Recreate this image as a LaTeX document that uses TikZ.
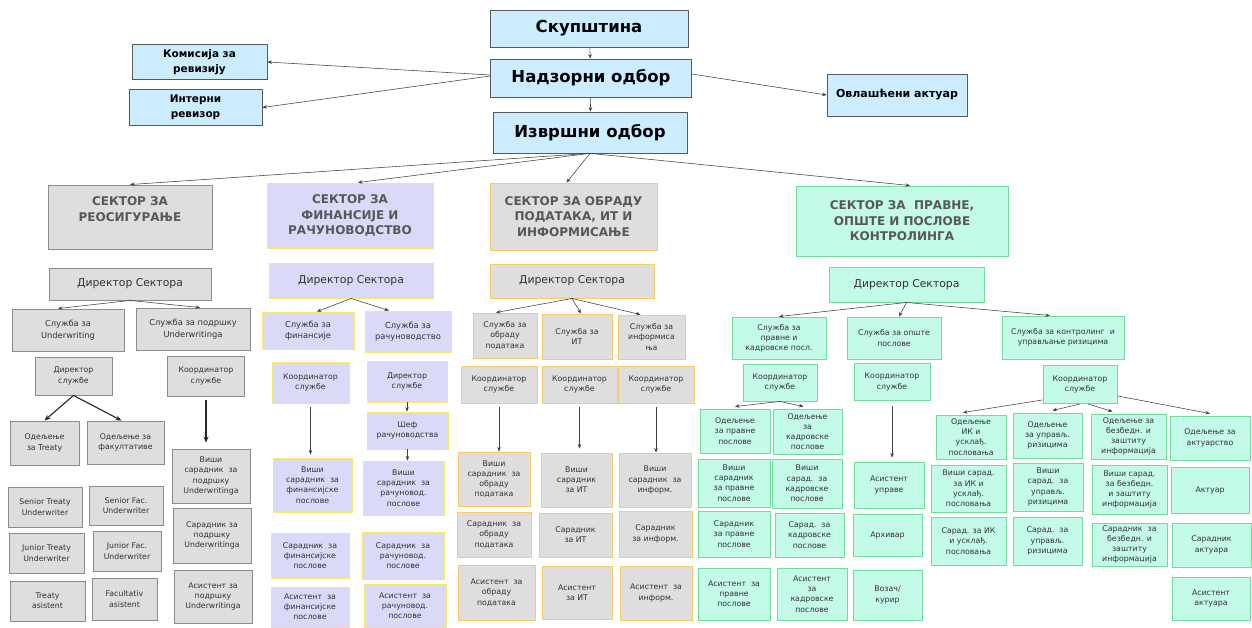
\documentclass[tikz,border=0pt]{standalone}
\usepackage{fontspec}
\setmainfont{DejaVu Sans}
\usetikzlibrary{arrows.meta}
\definecolor{topfill}{RGB}{204,236,255}
\definecolor{topdraw}{RGB}{90,90,90}
\definecolor{grayfill}{RGB}{222,222,222}
\definecolor{graydraw}{RGB}{140,140,140}
\definecolor{lavfill}{RGB}{218,218,248}
\definecolor{yeldraw}{RGB}{250,232,110}
\definecolor{orgdraw}{RGB}{245,205,105}
\definecolor{mintfill}{RGB}{196,250,232}
\definecolor{mintdraw}{RGB}{110,222,155}
\definecolor{hdtext}{RGB}{88,88,88}
\definecolor{txt}{RGB}{50,50,50}
\newcommand\ftop{\fontsize{16.5}{20}\selectfont\bfseries}
\newcommand\fmid{\fontsize{10.5}{14.5}\selectfont\bfseries}
\newcommand\fov{\fontsize{11}{14}\selectfont\bfseries}
\newcommand\fsec{\fontsize{12}{15.5}\selectfont\bfseries}
\newcommand\fdir{\fontsize{10.8}{13}\selectfont}
\newcommand\fsrv{\fontsize{8.3}{11.5}\selectfont}
\newcommand\fsm{\fontsize{7.8}{10.2}\selectfont}
\newcommand\Bx[7]{\node[#1, minimum width=#5pt, minimum height=#6pt] (#2) at (#3,#4) {#7};}
\begin{document}
\begin{tikzpicture}[x=1pt,y=-1pt,
  bxbase/.style={align=center, inner sep=1pt, text=txt, line width=0.9pt},
  bxtop/.style={bxbase, draw=topdraw, fill=topfill, text=black, line width=0.7pt},
  bxg/.style={bxbase, draw=graydraw, fill=grayfill},
  bxl/.style={bxbase, draw=yeldraw, fill=lavfill},
  bxo/.style={bxbase, draw=orgdraw, fill=grayfill},
  bxm/.style={bxbase, draw=mintdraw, fill=mintfill},
  sechd/.style={font=\fsec, text=hdtext},
  arr/.style={draw=black!75, line width=0.55pt, -{Stealth[length=4.5pt,width=3.5pt]}},
  arrk/.style={draw=black!85, line width=1.1pt, -{Stealth[length=6pt,width=5pt]}}]
\fill[white] (0,0) rectangle (1252,628);
\useasboundingbox (0,0) rectangle (1252,628);
% top
\Bx{bxtop,font=\ftop}{sk}{589}{28.5}{198}{37}{Скупштина}
\Bx{bxtop,font=\ftop}{nad}{591}{78}{201}{38}{Надзорни одбор}
\Bx{bxtop,font=\ftop}{izv}{590}{132.5}{194}{41}{Извршни одбор}
\Bx{bxtop,font=\fmid}{kom}{199.5}{62}{135}{35}{Комисија за\\ревизију}
\Bx{bxtop,font=\fmid}{int}{195.5}{107.5}{133}{36}{Интерни\\ревизор}
\Bx{bxtop,font=\fov}{ovl}{897}{95}{140}{42}{Овлашћени актуар}
\draw[arr] (sk) -- (nad);
\draw[arr] (nad) -- (izv);
\draw[arr] ([yshift=3pt]nad.west) -- (kom.east);
\draw[arr] ([yshift=2pt]nad.west) -- (int.east);
\draw[arr] ([yshift=4pt]nad.east) -- (ovl.west);
% sectors
\Bx{bxg,sechd}{s1}{130}{217}{164}{64}{СЕКТОР ЗА\\РЕОСИГУРАЊЕ\\\mbox{}}
\Bx{bxl,sechd}{s2}{350}{215.5}{166}{65}{СЕКТОР ЗА\\ФИНАНСИЈЕ И\\РАЧУНОВОДСТВО}
\Bx{bxo,sechd}{s3}{573.5}{216.5}{167}{67}{СЕКТОР ЗА ОБРАДУ\\ПОДАТАКА, ИТ И\\ИНФОРМИСАЊЕ}
\Bx{bxm,sechd}{s4}{902}{221}{212}{70}{СЕКТОР ЗА~~ПРАВНЕ,\\ОПШТЕ И ПОСЛОВЕ\\КОНТРОЛИНГА}
\draw[arr] (izv.south) -- (s1.north);
\draw[arr] (izv.south) -- ([xshift=8pt]s2.north);
\draw[arr] (izv.south) -- ([xshift=-7pt]s3.north);
\draw[arr] (izv.south) -- ([xshift=8pt]s4.north);
% sector 1
\Bx{bxg,font=\fdir}{d1}{130}{284}{162}{32}{Директор Сектора}
\Bx{bxg,font=\fsrv}{u1}{68}{330}{112}{42}{Служба за\\Underwriting}
\Bx{bxg,font=\fsrv}{u2}{193}{329}{114}{42}{Служба за подршку\\Underwritinga}
\Bx{bxg,font=\fsm}{ds1}{73.5}{376}{77}{38}{Директор\\службе}
\Bx{bxg,font=\fsm}{ks1}{206}{376}{77}{40}{Координатор\\службе}
\Bx{bxg,font=\fsm}{ot}{44.5}{443}{69}{44}{Одељење\\за Treaty}
\Bx{bxg,font=\fsm}{of}{125.5}{442.5}{77}{43}{Одељење за\\факултативе}
\Bx{bxg,font=\fsm}{vsu}{211}{476}{78}{54}{Виши\\сарадник~~за\\подршку\\Underwritinga}
\Bx{bxg,font=\fsm}{ssu}{212}{535.5}{78}{55}{Сарадник за\\подршку\\Underwritinga}
\Bx{bxg,font=\fsm}{asu}{213}{596.5}{78}{53}{Асистент за\\подршку\\Underwritinga}
\Bx{bxg,font=\fsm}{stu}{45}{507}{74}{40}{Senior Treaty\\Underwriter}
\Bx{bxg,font=\fsm}{sfu}{126}{505.5}{74}{39}{Senior Fac.\\Underwriter}
\Bx{bxg,font=\fsm}{jtu}{46.5}{553}{75}{40}{Junior Treaty\\Underwriter}
\Bx{bxg,font=\fsm}{jfu}{127}{551}{68}{40}{Junior Fac.\\Underwriter}
\Bx{bxg,font=\fsm}{ta}{47.5}{601}{75}{40}{Treaty\\asistent}
\Bx{bxg,font=\fsm}{fa}{124.5}{599}{65}{42}{Facultativ\\asistent}
\draw[arr] (d1.south) -- ([xshift=-10pt]u1.north);
\draw[arr] (d1.south) -- ([xshift=7pt]u2.north);
\draw[arrk] (ds1.south) -- (ot.north);
\draw[arrk] (ds1.south) -- ([xshift=-4pt]of.north);
\draw[arrk] ([yshift=-4pt]ks1.south) -- ([yshift=6pt]ks1.south |- vsu.north);
% sector 2
\Bx{bxl,font=\fdir}{d2}{351}{280.5}{164}{35}{Директор Сектора}
\Bx{bxl,font=\fsrv}{f1}{308}{330.5}{92}{37}{Служба за\\финансије}
\Bx{bxl,font=\fsrv}{f2}{408}{331.5}{86}{41}{Служба за\\рачуноводство}
\Bx{bxl,font=\fsm}{kf}{310.5}{382.5}{77}{41}{Координатор\\службе}
\Bx{bxl,font=\fsm}{dr}{407}{381.5}{80}{41}{Директор\\службе}
\Bx{bxl,font=\fsm}{sr}{407.5}{430.5}{81}{37}{Шеф\\рачуноводства}
\Bx{bxl,font=\fsm}{vf}{312.5}{485}{79}{54}{Виши\\сарадник~~за\\финансијске\\послове}
\Bx{bxl,font=\fsm}{vr}{403.5}{488}{81}{54}{Виши\\сарадник~~за\\рачуновод.\\послове}
\Bx{bxl,font=\fsm}{sf}{310}{555.5}{78}{45}{Сарадник~~за\\финансијске\\послове}
\Bx{bxl,font=\fsm}{srr}{403}{555.5}{82}{47}{Сарадник~~за\\рачуновод.\\послове}
\Bx{bxl,font=\fsm}{af}{310}{607}{78}{40}{Асистент~~за\\финансијске\\послове}
\Bx{bxl,font=\fsm}{ar}{405}{605.5}{82}{43}{Асистент~~за\\рачуновод.\\послове}
\draw[arr] (d2.south) -- ([xshift=9pt]f1.north);
\draw[arr] (d2.south) -- ([xshift=-19pt]f2.north);
\draw[arr] ([yshift=-4pt]kf.south) -- ([yshift=3pt]kf.south |- vf.north);
\draw[arr] (dr.south) -- (dr.south |- sr.north);
\draw[arr] (sr.south) -- (sr.south |- vr.north);
% sector 3
\Bx{bxo,font=\fdir}{d3}{572}{281}{164}{34}{Директор Сектора}
\Bx{bxo,font=\fsm}{p1}{505}{335.5}{64}{45}{Служба за\\обраду\\података}
\Bx{bxo,font=\fsm}{p2}{577}{336.5}{70}{45}{Служба за\\ИТ}
\Bx{bxo,font=\fsm}{p3}{651.5}{337}{67}{44}{Служба за\\информиса\\ња}
\Bx{bxo,font=\fsm}{k31}{499}{384.5}{76}{37}{Координатор\\службе}
\Bx{bxo,font=\fsm}{k32}{579.5}{384.5}{75}{37}{Координатор\\службе}
\Bx{bxo,font=\fsm}{k33}{656}{384.5}{76}{37}{Координатор\\службе}
\Bx{bxo,font=\fsm}{v31}{494}{479}{72}{54}{Виши\\сарадник~~за\\обраду\\података}
\Bx{bxo,font=\fsm}{v32}{576.5}{480}{71}{54}{Виши\\сарадник\\за ИТ}
\Bx{bxo,font=\fsm}{v33}{655}{480}{72}{54}{Виши\\сарадник~~за\\информ.}
\Bx{bxo,font=\fsm}{s31}{494}{534.5}{74}{45}{Сарадник~~за\\обраду\\података}
\Bx{bxo,font=\fsm}{s32}{575.5}{535}{73}{44}{Сарадник\\за ИТ}
\Bx{bxo,font=\fsm}{s33}{655.5}{534}{73}{46}{Сарадник\\за информ.}
\Bx{bxo,font=\fsm}{a31}{496.5}{592.5}{77}{55}{Асистент~~за\\обраду\\података}
\Bx{bxo,font=\fsm}{a32}{577}{592.5}{70}{53}{Асистент\\за ИТ}
\Bx{bxo,font=\fsm}{a33}{656}{593}{72}{54}{Асистент~~за\\информ.}
\draw[arr] (d3.south) -- ([xshift=-9pt]p1.north);
\draw[arr] (d3.south) -- ([xshift=4pt]p2.north);
\draw[arr] (d3.south) -- ([xshift=-11pt]p3.north);
\draw[arr] ([yshift=-4pt]k31.south) -- (k31.south |- v31.north);
\draw[arr] ([yshift=-4pt]k32.south) -- ([yshift=4pt]k32.south |- v32.north);
\draw[arr] ([yshift=-4pt]k33.south) -- (k33.south |- v33.north);
% sector 4
\Bx{bxm,font=\fdir}{d4}{906.5}{284.5}{155}{35}{Директор Сектора}
\Bx{bxm,font=\fsm}{q1}{779}{338}{94}{42}{Служба за\\правне и\\кадровске посл.}
\Bx{bxm,font=\fsm}{q2}{894}{338}{94}{42}{Служба за опште\\послове}
\Bx{bxm,font=\fsm}{q3}{1063}{337.5}{122}{43}{Служба за контролинг~~и\\управљање ризицима}
\Bx{bxm,font=\fsm}{k41}{780}{382.5}{74}{37}{Координатор\\службе}
\Bx{bxm,font=\fsm}{k42}{892}{382}{76}{37}{Координатор\\службе}
\Bx{bxm,font=\fsm}{k43}{1080}{384.5}{74}{38}{Координатор\\службе}
\Bx{bxm,font=\fsm}{o41}{735}{431}{70}{44}{Одељење\\за правне\\послове}
\Bx{bxm,font=\fsm}{o42}{807.5}{431.5}{69}{45}{Одељење\\за\\кадровске\\послове}
\Bx{bxm,font=\fsm}{v41}{734}{483}{72}{48}{Виши\\сарадник\\за правне\\послове}
\Bx{bxm,font=\fsm}{v42}{807}{483.5}{70}{49}{Виши\\сарад.~~за\\кадровске\\послове}
\Bx{bxm,font=\fsm}{s41}{734}{534}{72}{46}{Сарадник\\за правне\\послове}
\Bx{bxm,font=\fsm}{s42}{809.5}{535}{69}{44}{Сарад.~~за\\кадровске\\послове}
\Bx{bxm,font=\fsm}{a41}{734}{594}{72}{52}{Асистент~~за\\правне\\послове}
\Bx{bxm,font=\fsm}{a42}{812}{594}{70}{52}{Асистент\\за\\кадровске\\послове}
\Bx{bxm,font=\fsm}{au}{889}{485}{70}{46}{Асистент\\управе}
\Bx{bxm,font=\fsm}{arh}{887.5}{535}{69}{42}{Архивар}
\Bx{bxm,font=\fsm}{voz}{887.5}{595}{69}{50}{Возач/\\курир}
\Bx{bxm,font=\fsm}{o43}{971}{437}{70}{44}{Одељење\\ИК и\\усклађ.\\пословања}
\Bx{bxm,font=\fsm}{o44}{1047.5}{435.5}{69}{45}{Одељење\\за управљ.\\ризицима}
\Bx{bxm,font=\fsm}{o45}{1128.5}{436.5}{75}{45}{Одељење за\\безбедн. и\\заштиту\\информација}
\Bx{bxm,font=\fsm}{o46}{1210}{438}{80}{44}{Одељење за\\актуарство}
\Bx{bxm,font=\fsm}{v43}{968.5}{488.5}{75}{47}{Виши сарад.\\за ИК и\\усклађ.\\пословања}
\Bx{bxm,font=\fsm}{v44}{1048}{487}{70}{48}{Виши\\сарад.~~за\\управљ.\\ризицима}
\Bx{bxm,font=\fsm}{v45}{1129.5}{489.5}{75}{49}{Виши сарад.\\за безбедн.\\и заштиту\\информација}
\Bx{bxm,font=\fsm}{act}{1210}{490}{78}{46}{Актуар}
\Bx{bxm,font=\fsm}{s43}{968.5}{541}{75}{48}{Сарад. за ИК\\и усклађ.\\пословања}
\Bx{bxm,font=\fsm}{s44}{1047.5}{541}{69}{48}{Сарад.~~за\\управљ.\\ризицима}
\Bx{bxm,font=\fsm}{s45}{1129.5}{544.5}{75}{43}{Сарадник~~за\\безбедн. и\\заштиту\\информација}
\Bx{bxm,font=\fsm}{sa}{1211.5}{545}{79}{44}{Сарадник\\актуара}
\Bx{bxm,font=\fsm}{aa}{1211}{598.5}{78}{43}{Асистент\\актуара}
\draw[arr] (d4.south) -- (q1.north);
\draw[arr] (d4.south) -- ([xshift=5pt]q2.north);
\draw[arr] (d4.south) -- ([xshift=-13pt]q3.north);
\draw[arr] (k41.south) -- ([yshift=2pt]o41.north);
\draw[arr] (k41.south) -- ([xshift=-4pt,yshift=2pt]o42.north);
\draw[arr] ([yshift=-5pt]k42.south) -- ([yshift=4pt]k42.south |- au.north);
\draw[arr] ([yshift=4pt]k43.south west) -- ([xshift=-8pt,yshift=2pt]o43.north);
\draw[arr] (k43.south) -- ([xshift=5pt,yshift=2pt]o44.north);
\draw[arr] ([xshift=8pt]k43.south) -- ([xshift=-16pt,yshift=2pt]o45.north);
\draw[arr] ([yshift=8pt]k43.south east) -- ([yshift=2pt]o46.north);
\end{tikzpicture}
\end{document}
